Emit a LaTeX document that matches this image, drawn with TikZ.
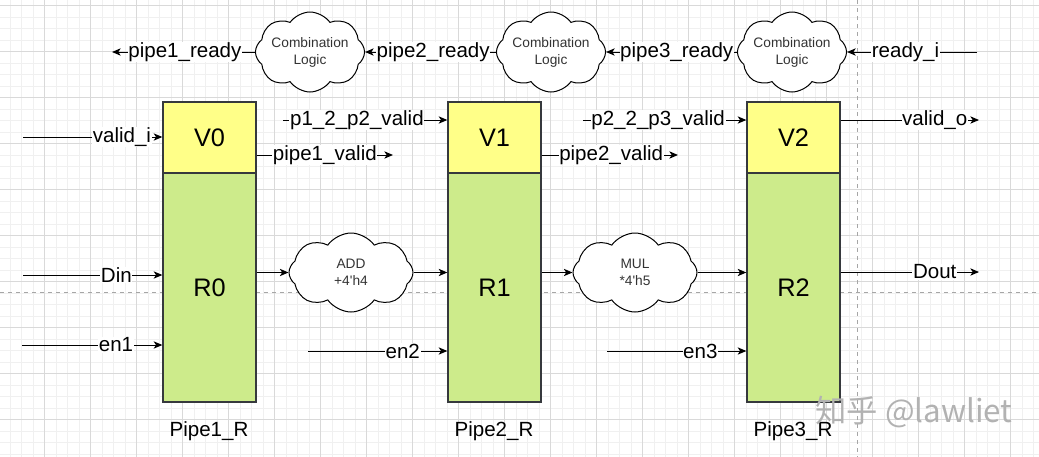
\documentclass[tikz,border=0pt]{standalone}
\usepackage{fontspec}
\setmainfont{Liberation Sans}
\newfontfamily\cjkfont{Noto Sans CJK SC}
\usetikzlibrary{arrows.meta,shapes.symbols}
\definecolor{vfill}{HTML}{FFFF88}
\definecolor{rfill}{HTML}{CDEB8B}
\definecolor{boxline}{HTML}{36393D}
\tikzset{every picture/.style={line width=0.75pt}}
\tikzset{
  sig/.style={-{Stealth[length=6.5pt,width=5.5pt,inset=1.8pt]}},
  lbl/.style={fill=white,inner sep=0.5pt,font=\fontsize{15.4}{18}\selectfont},
  plbl/.style={inner sep=0pt,font=\fontsize{15.4}{18}\selectfont},
  vreg/.style={draw=boxline,fill=vfill,line width=1pt,inner sep=0pt,minimum width=69.75pt,minimum height=53.25pt,font=\fontsize{19}{23}\selectfont},
  rreg/.style={draw=boxline,fill=rfill,line width=1pt,inner sep=0pt,minimum width=69.75pt,minimum height=171.75pt,font=\fontsize{19}{23}\selectfont},
  logic/.style={cloud,draw,fill=white,cloud puffs=8,cloud puff arc=110,cloud ignores aspect,inner sep=0pt,align=center,text=black!80,font=\fontsize{10.3}{12.75}\selectfont},
  gridminor/.style={draw=black!6,line width=0.4pt},
  gridmajor/.style={draw=black!15,line width=0.5pt},
  pagebreak/.style={draw=black!35,line width=0.5pt,dash pattern=on 3pt off 3pt}
}

\begin{document}
\begin{tikzpicture}[x=0.75pt,y=0.75pt,yscale=-1,xscale=1]
\useasboundingbox (0,0) rectangle (1039,457);

% background grid
\foreach \gx in {-1.7,9.8,...,1045} \draw[gridminor] (\gx,0) -- (\gx,457);
\foreach \gy in {-6.2,5.3,...,460} \draw[gridminor] (0,\gy) -- (1039,\gy);
\foreach \gx in {44.3,90.3,...,1045} \draw[gridmajor] (\gx,0) -- (\gx,457);
\foreach \gy in {5.3,51.3,...,460} \draw[gridmajor] (0,\gy) -- (1039,\gy);
\draw[pagebreak] (857,0) -- (857,457);
\draw[pagebreak] (0,292) -- (1039,292);

% Registers
\node[vreg] (V0) at (209.5,137.5) {V0};
\node[rreg] (R0) at (209.5,287.5) {R0};
\node[vreg] (V1) at (494.5,137.5) {V1};
\node[rreg] (R1) at (494.5,287.5) {R1};
\node[vreg] (V2) at (793.5,137.5) {V2};
\node[rreg] (R2) at (793.5,287.5) {R2};

% Text Node
\node[plbl] (pipe1) at (209,431) {Pipe1\_R};
\node[plbl] (pipe2) at (494,431) {Pipe2\_R};
\node[plbl] (pipe3) at (793,431) {Pipe3\_R};

% Combination logic
\node[logic,minimum width=81pt,minimum height=60pt] (cl1) at (310,52) {Combination\\Logic};
\node[logic,minimum width=81pt,minimum height=60pt] (cl2) at (551,52) {Combination\\Logic};
\node[logic,minimum width=81pt,minimum height=60pt] (cl3) at (792,52) {Combination\\Logic};
\node[logic,minimum width=93pt,minimum height=59.25pt] (add) at (351,272.5) {ADD\\+4\textquotesingle h4};
\node[logic,minimum width=93pt,minimum height=59.25pt] (mul) at (635,272.5) {MUL\\*4\textquotesingle h5};

% ready chain
\coordinate (rdyi) at (977,52);
\coordinate (p1r) at (112,52);
\draw[sig] (rdyi) -- (cl3) node[lbl,pos=.55] {ready\_i};
\draw[sig] (cl3) -- (cl2) node[lbl,pos=.46] {pipe3\_ready};
\draw[sig] (cl2) -- (cl1) node[lbl,pos=.48] {pipe2\_ready};
\draw[sig] (cl1) -- (p1r) node[lbl,pos=.49] {pipe1\_ready};

% valid chain
\coordinate (vi) at (23,137);
\coordinate (p1v) at (393,155);
\coordinate (p2v) at (678,155);
\coordinate (p12) at (283,120);
\coordinate (p23) at (583,120);
\coordinate (vo) at (979,120);
\draw[sig] (vi) -- (vi -| V0.west) node[lbl,pos=.71] {valid\_i};
\draw[sig] (V0.east |- p1v) -- (p1v) node[lbl,pos=.5] {pipe1\_valid};
\draw[sig] (p12) -- (p12 -| V1.west) node[lbl,pos=.45] {p1\_2\_p2\_valid};
\draw[sig] (V1.east |- p2v) -- (p2v) node[lbl,pos=.51] {pipe2\_valid};
\draw[sig] (p23) -- (p23 -| V2.west) node[lbl,pos=.46] {p2\_2\_p3\_valid};
\draw[sig] (V2.east |- vo) -- (vo) node[lbl,pos=.68] {valid\_o};

% data path
\coordinate (din) at (23,275);
\coordinate (dout) at (979,272);
\draw[sig] (din) -- (din -| R0.west) node[lbl,pos=.67] {Din};
\draw[sig] (R0.east |- add) -- (add);
\draw[sig] (add) -- (add -| R1.west);
\draw[sig] (R1.east |- mul) -- (mul);
\draw[sig] (mul) -- (mul -| R2.west);
\draw[sig] (R2.east |- dout) -- (dout) node[lbl,pos=.68] {Dout};

% enables
\coordinate (en1) at (22,345);
\coordinate (en2) at (308,351);
\coordinate (en3) at (607,351);
\draw[sig] (en1) -- (en1 -| R0.west) node[lbl,pos=.67] {en1};
\draw[sig] (en2) -- (en2 -| R1.west) node[lbl,pos=.68] {en2};
\draw[sig] (en3) -- (en3 -| R2.west) node[lbl,pos=.67] {en3};

% watermark
\node[text=black!30,font=\cjkfont\fontsize{23.5}{28}\selectfont] (wm) at (914,412) {知乎 @lawliet};

\end{tikzpicture}
\end{document}
